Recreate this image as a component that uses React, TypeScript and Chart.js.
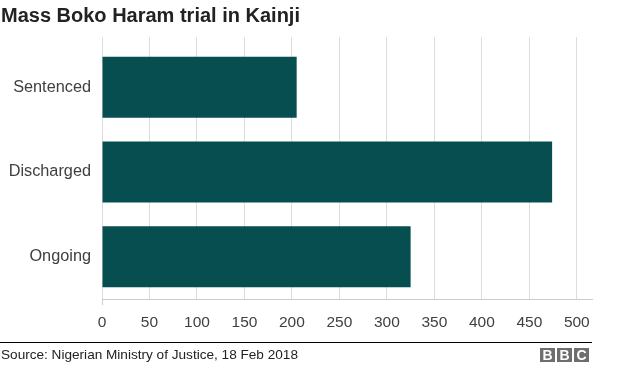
import React, { useEffect, useRef } from "react";
import { Chart, registerables } from "chart.js";

Chart.register(...registerables);

const categories = ["Sentenced", "Discharged", "Ongoing"];
const values = [205, 474, 325];
const xTicks = [0, 50, 100, 150, 200, 250, 300, 350, 400, 450, 500];
const title = "Mass Boko Haram trial in Kainji";
const source = "Source: Nigerian Ministry of Justice, 18 Feb 2018";

const BAR = "#064e4f";
const GRID = "#dddddd";
const TEXT = "#404040";

const gridExtend = {
  id: "gridExtend",
  beforeDatasetsDraw(chart: any) {
    const { ctx, chartArea, scales } = chart;
    const x = scales.x;
    ctx.save();
    ctx.strokeStyle = GRID;
    ctx.lineWidth = 1;
    for (const t of x.ticks) {
      const px = Math.round(x.getPixelForValue(t.value) - 0.5) + 0.5;
      ctx.beginPath();
      ctx.moveTo(px, chartArea.top - 8);
      ctx.lineTo(px, chartArea.top);
      ctx.stroke();
    }
    ctx.restore();
  },
};

export default function App() {
  const ref = useRef<HTMLCanvasElement | null>(null);

  useEffect(() => {
    document.body.style.margin = "0";
    const canvas = ref.current;
    if (!canvas) return;
    const chart = new Chart(canvas, {
      type: "bar",
      data: {
        labels: categories,
        datasets: [
          {
            data: values,
            backgroundColor: BAR,
            borderWidth: 0,
            barPercentage: 0.72,
            categoryPercentage: 1,
          },
        ],
      },
      plugins: [gridExtend],
      options: {
        indexAxis: "y",
        animation: false,
        responsive: false,
        maintainAspectRatio: false,
        devicePixelRatio: 1,
        layout: { padding: { top: 45, right: 32, left: 0, bottom: 0 } },
        plugins: {
          legend: { display: false },
          tooltip: { enabled: false },
          title: { display: false },
        },
        scales: {
          x: {
            min: 0,
            max: 516,
            afterBuildTicks: (axis: any) => {
              axis.ticks = xTicks.map((v) => ({ value: v }));
            },
            afterFit: (axis: any) => {
              axis.height = 68;
            },
            grid: {
              color: GRID,
              lineWidth: 1,
              drawTicks: true,
              tickLength: 6,
              tickColor: (ctx: any) =>
                ctx.tick && ctx.tick.value === 0 ? "#cccccc" : "rgba(0,0,0,0)",
            },
            border: { display: true, color: "#cccccc" },
            ticks: {
              color: TEXT,
              padding: 8,
              font: { family: "'Liberation Sans', Arial, sans-serif", size: 15.5 },
              maxRotation: 0,
            },
          },
          y: {
            afterFit: (axis: any) => {
              axis.width = 102;
            },
            grid: { display: false, drawTicks: false },
            border: { display: false },
            ticks: {
              color: TEXT,
              padding: 11,
              font: { family: "'Liberation Sans', Arial, sans-serif", size: 16.3 },
            },
          },
        },
      },
    });
    return () => chart.destroy();
  }, []);

  return (
    <div
      style={{
        position: "relative",
        width: 624,
        height: 367,
        background: "#fff",
        overflow: "hidden",
        fontFamily: "'Liberation Sans', Arial, sans-serif",
      }}
    >
      <canvas
        ref={ref}
        width={624}
        height={367}
        style={{ position: "absolute", left: 0, top: 0, width: 624, height: 367 }}
      />
      <div
        style={{
          position: "absolute",
          left: 1,
          top: 3,
          fontSize: 20,
          fontWeight: "bold",
          color: "#222222",
          whiteSpace: "nowrap",
          lineHeight: "24px",
        }}
      >
        {title}
      </div>
      <div
        style={{
          position: "absolute",
          left: 0,
          top: 342,
          width: 592,
          height: 1,
          background: "#000",
        }}
      />
      <div
        style={{
          position: "absolute",
          left: 1,
          top: 346,
          fontSize: 13.6,
          color: "#222222",
          whiteSpace: "nowrap",
          lineHeight: "17px",
        }}
      >
        {source}
      </div>
      <div
        style={{
          position: "absolute",
          left: 540,
          top: 348,
          display: "flex",
          gap: 2,
        }}
      >
        {["B", "B", "C"].map((l, i) => (
          <div
            key={i}
            style={{
              width: 15,
              height: 14,
              background: "#6e6e6e",
              color: "#fff",
              fontWeight: "bold",
              fontSize: 14,
              lineHeight: "14px",
              textAlign: "center",
            }}
          >
            {l}
          </div>
        ))}
      </div>
    </div>
  );
}
